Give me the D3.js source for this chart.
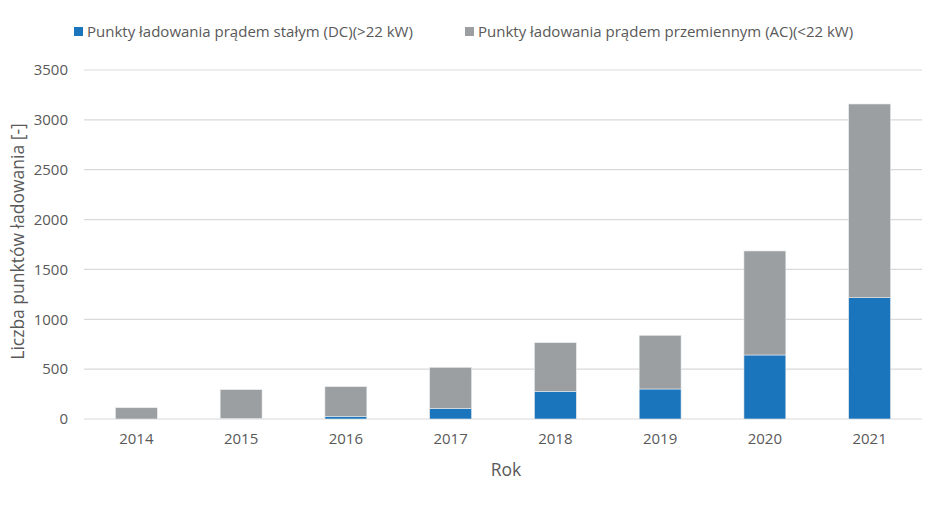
<!DOCTYPE html>
<html>
<head>
<meta charset="utf-8">
<script src="https://cdn.jsdelivr.net/npm/d3@7"></script>
<style>
  body { margin: 0; background: #fff; }
  text { font-family: "Open Sans", sans-serif; fill: #595959; }
</style>
</head>
<body>
<div id="chart"></div>
<script>
// data
var years = ["2014", "2015", "2016", "2017", "2018", "2019", "2020", "2021"];
var dcPoints = [0, 5, 27, 107, 278, 301, 642, 1217];
var acPoints = [113, 289, 297, 411, 487, 538, 1043, 1942];
var yTicks = [0, 500, 1000, 1500, 2000, 2500, 3000, 3500];
var seriesNames = ["Punkty ładowania prądem stałym (DC)(>22 kW)",
                   "Punkty ładowania prądem przemiennym (AC)(<22 kW)"];
var colors = ["#1b75bc", "#9b9fa2"];

var svgWidth = 940;
var svgHeight = 519;
var margin = { top: 70, right: 18, bottom: 100, left: 84 };
var width = svgWidth - margin.left - margin.right;
var height = svgHeight - margin.top - margin.bottom;

var svg = d3.select("#chart").append("svg")
            .attr("width", svgWidth)
            .attr("height", svgHeight);

var chartGroup = svg.append("g")
                    .attr("transform", `translate(${margin.left}, ${margin.top})`);

var table = years.map(function(y, i) {
    return { year: y, dc: dcPoints[i], ac: acPoints[i] };
});
var stacked = d3.stack().keys(["dc", "ac"])(table);

var x = d3.scaleBand().domain(years).range([0, width]).paddingInner(0.6).paddingOuter(0.3);
var y = d3.scaleLinear().domain([0, 3500]).range([height, 0]);

// gridlines
chartGroup.append("g")
          .selectAll("line")
          .data(yTicks)
          .enter()
          .append("line")
          .attr("x1", 0)
          .attr("x2", width)
          .attr("y1", d => y(d))
          .attr("y2", d => y(d))
          .attr("stroke", "#d9d9d9")
          .attr("stroke-width", 1.2);

var leftAxis = d3.axisLeft(y).tickValues(yTicks).tickFormat(d3.format("d")).tickSize(0).tickPadding(16);
var yAxis = chartGroup.append("g").call(leftAxis);
yAxis.select(".domain").remove();
yAxis.selectAll("text").style("font-size", "15px").attr("fill", "#595959");

var bottomAxis = d3.axisBottom(x).tickSize(0).tickPadding(14);
var xAxis = chartGroup.append("g")
                      .attr("transform", `translate(0, ${height})`)
                      .call(bottomAxis);
xAxis.select(".domain").remove();
xAxis.selectAll("text").style("font-size", "15px").attr("fill", "#595959");

chartGroup.selectAll(".series")
          .data(stacked)
          .enter()
          .append("g")
          .attr("fill", (d, i) => colors[i])
          .selectAll("rect")
          .data(d => d)
          .enter()
          .append("rect")
          .attr("x", d => x(d.data.year))
          .attr("width", x.bandwidth())
          .attr("y", d => y(d[1]))
          .attr("height", d => y(d[0]) - y(d[1]))
          .attr("stroke", "#e8eaec")
          .attr("stroke-width", 0.6);

// axis titles
chartGroup.append("text")
          .attr("transform", "rotate(-90)")
          .attr("x", -height / 2 + 3)
          .attr("y", -margin.left + 24)
          .attr("text-anchor", "middle")
          .style("font-size", "17.5px")
          .text("Liczba punktów ładowania [-]");

chartGroup.append("text")
          .attr("x", width / 2 + 3)
          .attr("y", height + 57)
          .attr("text-anchor", "middle")
          .style("font-size", "17.5px")
          .text("Rok");

// legend
var legendX = [74, 465];
var legend = svg.selectAll(".legend")
                .data(seriesNames)
                .enter()
                .append("g")
                .attr("transform", (d, i) => `translate(${legendX[i]}, 27)`);
legend.append("rect")
      .attr("width", 9)
      .attr("height", 9)
      .attr("fill", (d, i) => colors[i]);
legend.append("text")
      .attr("x", 13)
      .attr("y", 10)
      .style("font-size", "15px")
      .text(d => d);
</script>
</body>
</html>
